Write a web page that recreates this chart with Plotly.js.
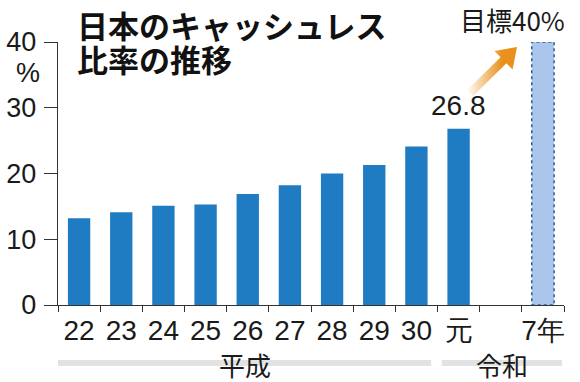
<!DOCTYPE html>
<html><head><meta charset="utf-8">
<script src="https://cdn.plot.ly/plotly-3.0.1.min.js"></script>
<style>body{margin:0;background:#fff}#c{width:580px;height:382px}</style>
</head><body><div id="c"></div>
<script>
const categories = ["22","23","24","25","26","27","28","29","30","元"," ","7年"];
const actualYears = ["22","23","24","25","26","27","28","29","30","元"];
const actualValues = [13.2,14.1,15.1,15.3,16.9,18.2,20.0,21.3,24.1,26.8];
const targetYears = ["7年"];
const targetValues = [40];
const yTicks = [0,10,20,30,40];
const eraLabels = ["平成","令和"];

const jp = '"Noto Sans CJK JP", "Liberation Sans", Arial, sans-serif';
const num = '"Liberation Sans", Arial, sans-serif';
const bargap = 0.47;
const tIdx = categories.indexOf(targetYears[0]);
const half = (1 - bargap) / 2;
const lastIdx = actualValues.length - 1;

// decorative arrow polygon, in an overlay pixel-like frame (origin at plot bottom-left)
const PW = 506.5, PH = 263;
function arrowPolygon(T, P, shaftHalf, headLen, headHalf) {
  const dx = P[0]-T[0], dy = P[1]-T[1], L = Math.hypot(dx, dy);
  const u = [dx/L, dy/L], n = [-u[1], u[0]];
  const B = [P[0]-headLen*u[0], P[1]-headLen*u[1]];
  const pt = (o, k) => [o[0]+k*n[0], o[1]+k*n[1]];
  const pts = [pt(T, shaftHalf), pt(B, shaftHalf), pt(B, headHalf), P, pt(B, -headHalf), pt(B, -shaftHalf), pt(T, -shaftHalf), pt(T, shaftHalf)];
  return {x: pts.map(p=>p[0]), y: pts.map(p=>p[1])};
}
const arrowTail = [412.5, 212], arrowTip = [459.5, 258];
const arr = arrowPolygon(arrowTail, arrowTip, 4.2, 19, 13);

const data = [
  {type:'bar', x:actualYears, y:actualValues, marker:{color:'#1f7bc2'}, hoverinfo:'none'},
  {type:'bar', x:targetYears, y:targetValues, marker:{color:'#abc6eb'}, hoverinfo:'none', cliponaxis:false},
  {type:'scatter', x:arr.x, y:arr.y, xaxis:'x2', yaxis:'y2', mode:'none', fill:'toself',
   fillcolor:'#e8911d', hoverinfo:'none', cliponaxis:false,
   fillgradient:{type:'horizontal', start:arrowTail[0]-4, stop:arrowTail[0]+32,
     colorscale:[[0,'rgba(232,145,29,0)'],[1,'rgba(232,145,29,1)']]}}
];

const heiseiEnd = actualYears.indexOf("30") + 0.5;
const bandY0 = -0.232, bandY1 = -0.209;

const layout = {
  width:580, height:382,
  margin:{l:57.5, r:16, t:42, b:77},
  paper_bgcolor:'#fff', plot_bgcolor:'#fff',
  showlegend:false, bargap:bargap,
  xaxis:{type:'category', categoryorder:'array', categoryarray:categories,
    tickson:'boundaries', ticks:'outside', ticklen:6, tickcolor:'#333', tickwidth:1,
    showline:true, linecolor:'#333', linewidth:1.2, showgrid:false, zeroline:false,
    tickangle:0, tickfont:{family:num, size:28, color:'#1a1a1a'}, range:[-0.5, categories.length-0.5],
    fixedrange:true},
  yaxis:{range:[0,40], tickvals:yTicks, ticks:'outside', ticklen:13, tickcolor:'#333', tickwidth:1,
    showline:true, linecolor:'#333', linewidth:1.2, showgrid:false, zeroline:false,
    tickfont:{family:num, size:27, color:'#1a1a1a'}, ticklabelstandoff:2, fixedrange:true},
  xaxis2:{overlaying:'x', anchor:'y2', range:[0,PW], visible:false, fixedrange:true},
  yaxis2:{overlaying:'y', anchor:'x2', range:[0,PH], visible:false, fixedrange:true},
  shapes:[
    {type:'rect', xref:'x', yref:'y', x0:tIdx-half, x1:tIdx+half, y0:0, y1:targetValues[0],
     line:{color:'#2e5d9c', width:1.5, dash:'dot'}, fillcolor:'rgba(0,0,0,0)'},
    {type:'rect', xref:'x', yref:'paper', x0:-0.5, x1:heiseiEnd-0.15, y0:bandY0, y1:bandY1,
     line:{width:0}, fillcolor:'#e2e2e2', layer:'below'},
    {type:'rect', xref:'x', yref:'paper', x0:heiseiEnd+0.1, x1:categories.length-0.55, y0:bandY0, y1:bandY1,
     line:{width:0}, fillcolor:'#e2e2e2', layer:'below'}
  ],
  annotations:[
    {xref:'paper', yref:'paper', x:0.034, y:1.068, xanchor:'left', yanchor:'middle',
     text:'<b>日本のキャッシュレス</b>', showarrow:false, font:{family:jp, size:31, color:'#111'}},
    {xref:'paper', yref:'paper', x:0.034, y:0.939, xanchor:'left', yanchor:'middle',
     text:'<b>比率の推移</b>', showarrow:false, font:{family:jp, size:31, color:'#111'}},
    {xref:'paper', yref:'paper', x:-0.06, y:0.882, xanchor:'center', yanchor:'middle',
     text:'%', showarrow:false, font:{family:num, size:27, color:'#1a1a1a'}},
    {xref:'paper', yref:'paper', x:0.899, y:1.086, xanchor:'center', yanchor:'middle',
     text:'目標40%', showarrow:false, font:{family:jp, size:26, color:'#1a1a1a'}},
    {xref:'x', yref:'y', x:actualYears[lastIdx], y:actualValues[lastIdx], yshift:6,
     xanchor:'center', yanchor:'bottom', text:actualValues[lastIdx].toFixed(1), showarrow:false,
     font:{family:num, size:28, color:'#1a1a1a'}},
    {xref:'x', yref:'paper', x:(heiseiEnd-0.15-0.5)/2, y:-0.228, yanchor:'middle', xanchor:'center',
     text:eraLabels[0], showarrow:false, font:{family:jp, size:26, color:'#1a1a1a'}},
    {xref:'x', yref:'paper', x:(heiseiEnd+0.1+categories.length-0.55)/2, y:-0.228, yanchor:'middle', xanchor:'center',
     text:eraLabels[1], showarrow:false, font:{family:jp, size:26, color:'#1a1a1a'}}
  ]
};
Plotly.newPlot('c', data, layout, {staticPlot:true});
</script></body></html>
